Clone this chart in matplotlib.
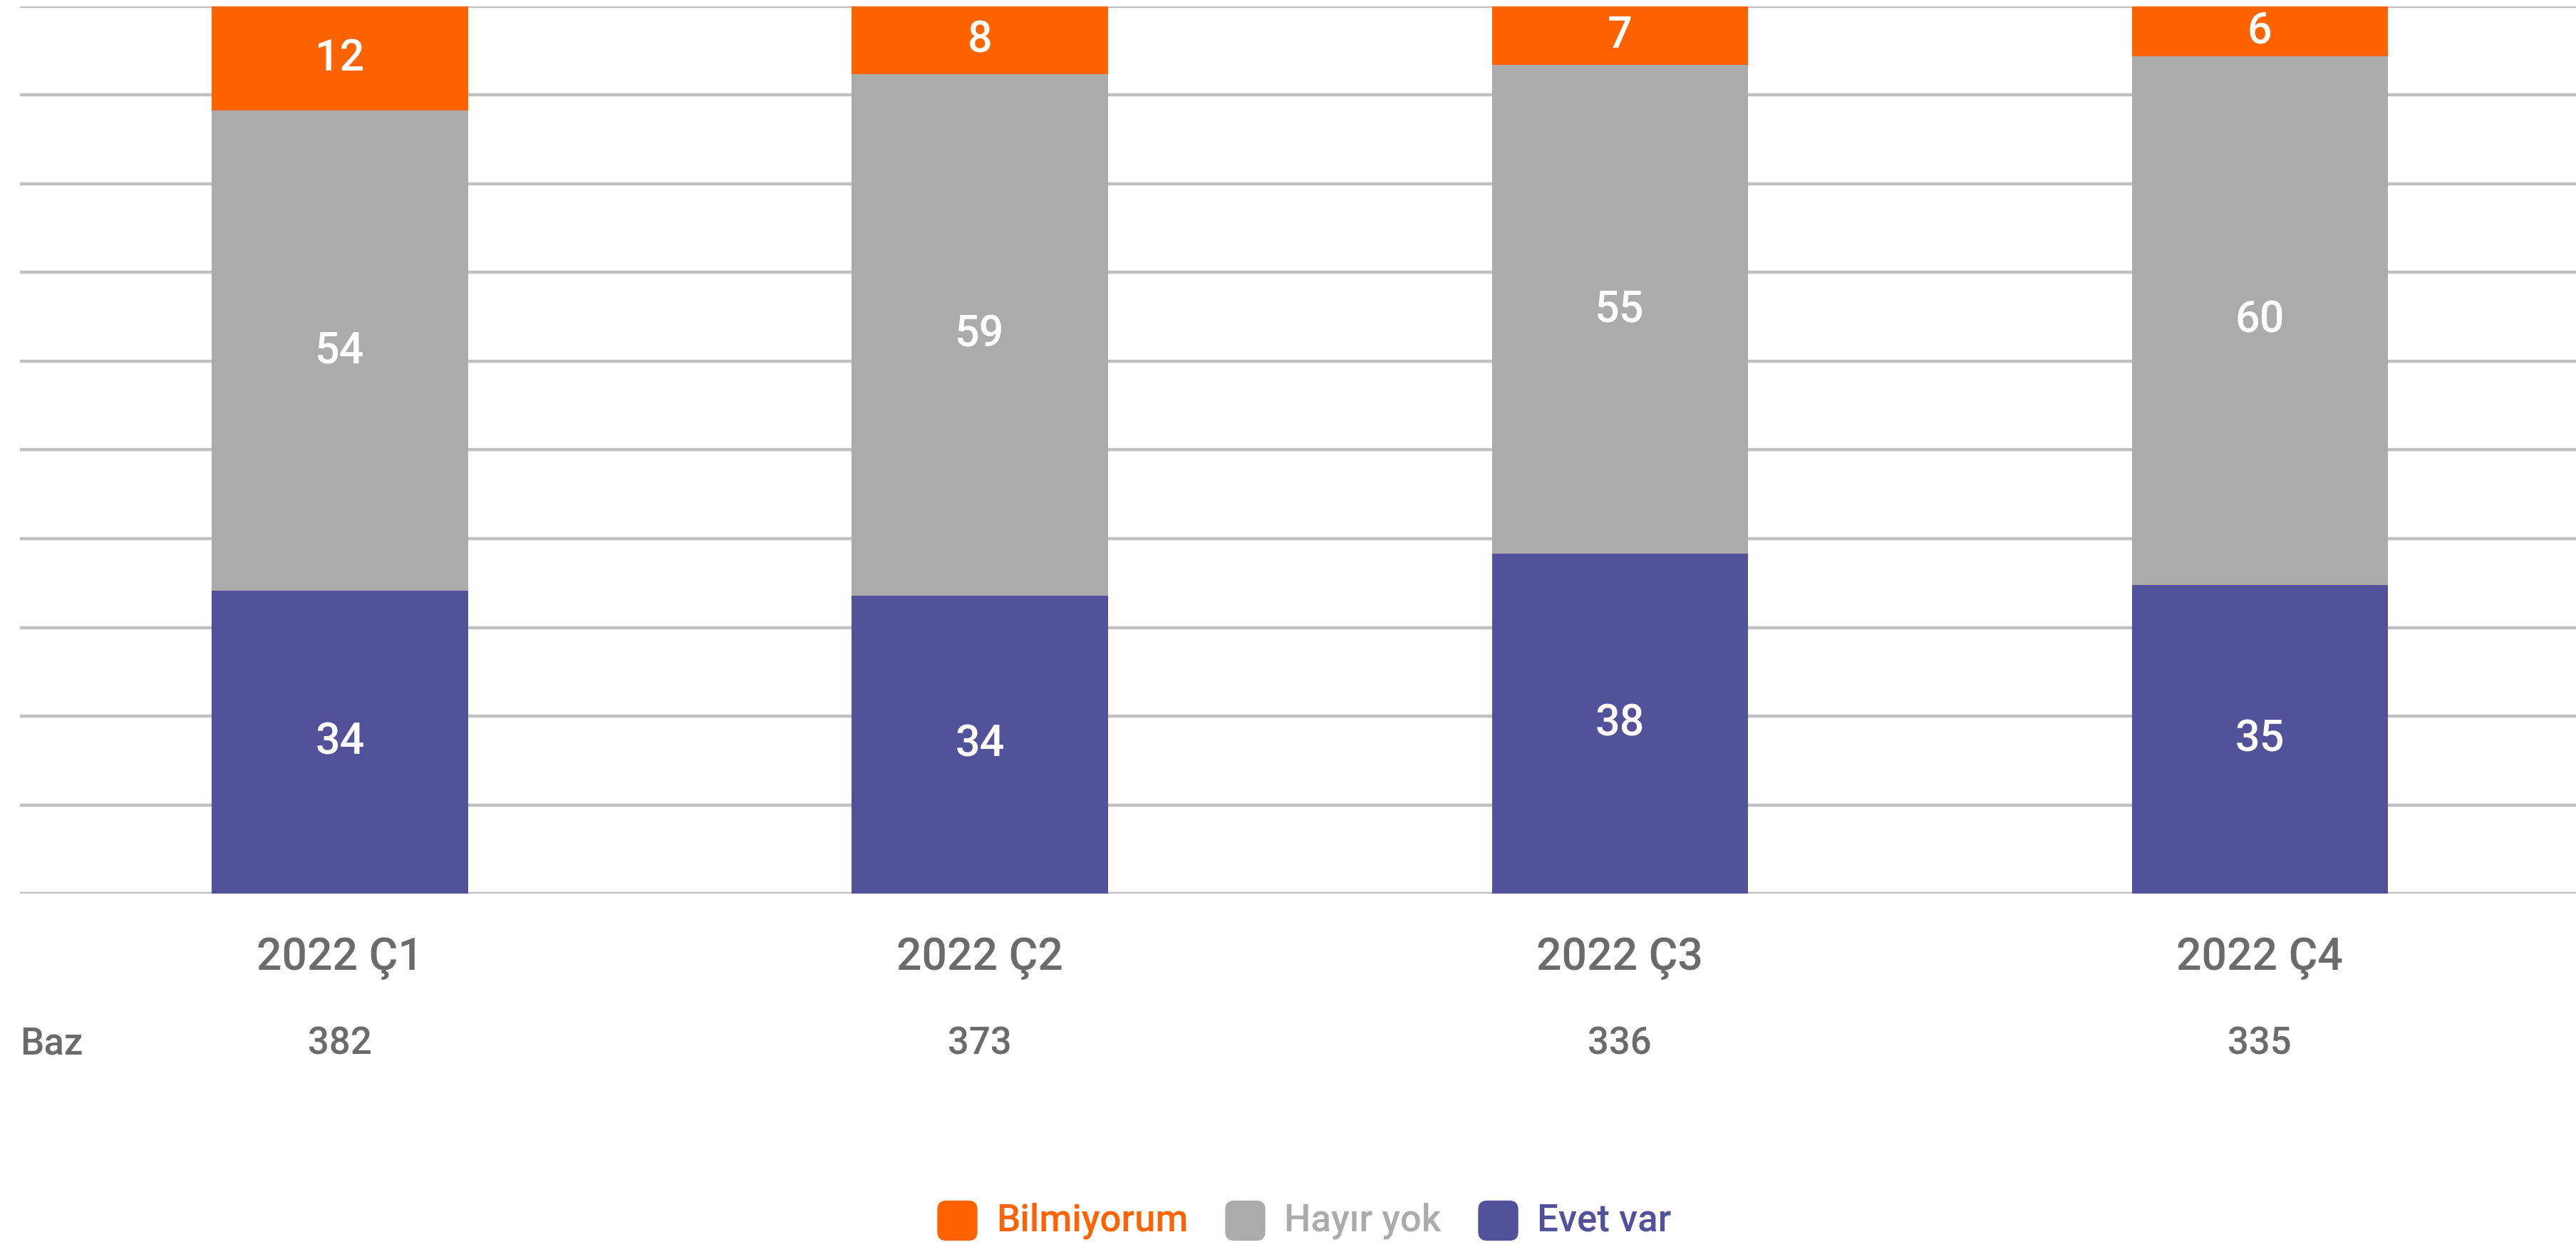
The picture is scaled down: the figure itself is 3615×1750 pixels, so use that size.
import matplotlib
matplotlib.use("Agg")
import matplotlib.pyplot as plt
from matplotlib.patches import FancyBboxPatch
import matplotlib.transforms as mtransforms
import numpy as np

plt.rcParams['font.family'] = ['Roboto', 'DejaVu Sans']

# data
quarters = ["2022 Ç1", "2022 Ç2", "2022 Ç3", "2022 Ç4"]
base = [382, 373, 336, 335]
evet_var = [34.1, 33.6, 38.3, 34.8]
hayir_yok = [54.2, 58.8, 55.1, 59.6]
bilmiyorum = [11.7, 7.6, 6.6, 5.6]

series_names = ["Bilmiyorum", "Hayır yok", "Evet var"]
colors = {"Evet var": "#52519a", "Hayır yok": "#ababab", "Bilmiyorum": "#ff6200"}
text_grey = "#6b6b6b"

fig = plt.figure(figsize=(36.15, 17.5), dpi=100)
ax = fig.add_axes([0.00775, 0.2834, 0.9937, 0.7115])

x = np.arange(len(quarters))
width = 0.4

bottom = np.zeros(len(quarters))
for name, vals in [("Evet var", evet_var), ("Hayır yok", hayir_yok),
                   ("Bilmiyorum", bilmiyorum)]:
    vals = np.array(vals)
    bars = ax.bar(x, vals, width, bottom=bottom, color=colors[name], zorder=3)
    for b, v, bt in zip(bars, vals, bottom):
        top = min(bt + v, 100)
        ax.text(b.get_x() + b.get_width() / 2, (bt + top) / 2, f"{v:.0f}",
                ha="center", va="center", color="white", fontsize=44,
                fontweight="medium", zorder=4)
    bottom = bottom + vals

ax.set_xlim(-0.5, 3.5)
ax.set_ylim(0, 100)
ax.set_yticks(np.arange(0, 101, 10))
ax.yaxis.grid(True, color="#c0c0c0", linewidth=3.2, zorder=0)
ax.set_axisbelow(True)
ax.tick_params(left=False, bottom=False, labelleft=False, labelbottom=False)
for s in ax.spines.values():
    s.set_visible(False)

trans = mtransforms.blended_transform_factory(ax.transData, ax.transAxes)
for xi, q, n in zip(x, quarters, base):
    ax.text(xi, -0.073, q, transform=trans, ha="center", va="center",
            color=text_grey, fontsize=45, fontweight="medium")
    ax.text(xi, -0.1695, str(n), transform=trans, ha="center", va="center",
            color=text_grey, fontsize=38, fontweight="medium")
ax.text(0.0, -0.1695, "Baz", transform=ax.transAxes, ha="left", va="center",
        color=text_grey, fontsize=38, fontweight="medium")

# legend with rounded squares
legend_x = [13.16, 17.20, 20.75]
legend_y = 17.5 - 17.13
sq = 0.55
for name, lx in zip(series_names, legend_x):
    p = FancyBboxPatch((lx, legend_y - sq / 2), sq, sq,
                       boxstyle="round,pad=0,rounding_size=0.12",
                       transform=fig.dpi_scale_trans, color=colors[name],
                       clip_on=False)
    fig.patches.append(p)
    fig.text((lx + sq + 0.27) / 36.15, legend_y / 17.5, name, ha="left",
             va="center", color=colors[name], fontsize=38,
             fontweight="medium")

fig.savefig("out.png", dpi=100, facecolor="white")
